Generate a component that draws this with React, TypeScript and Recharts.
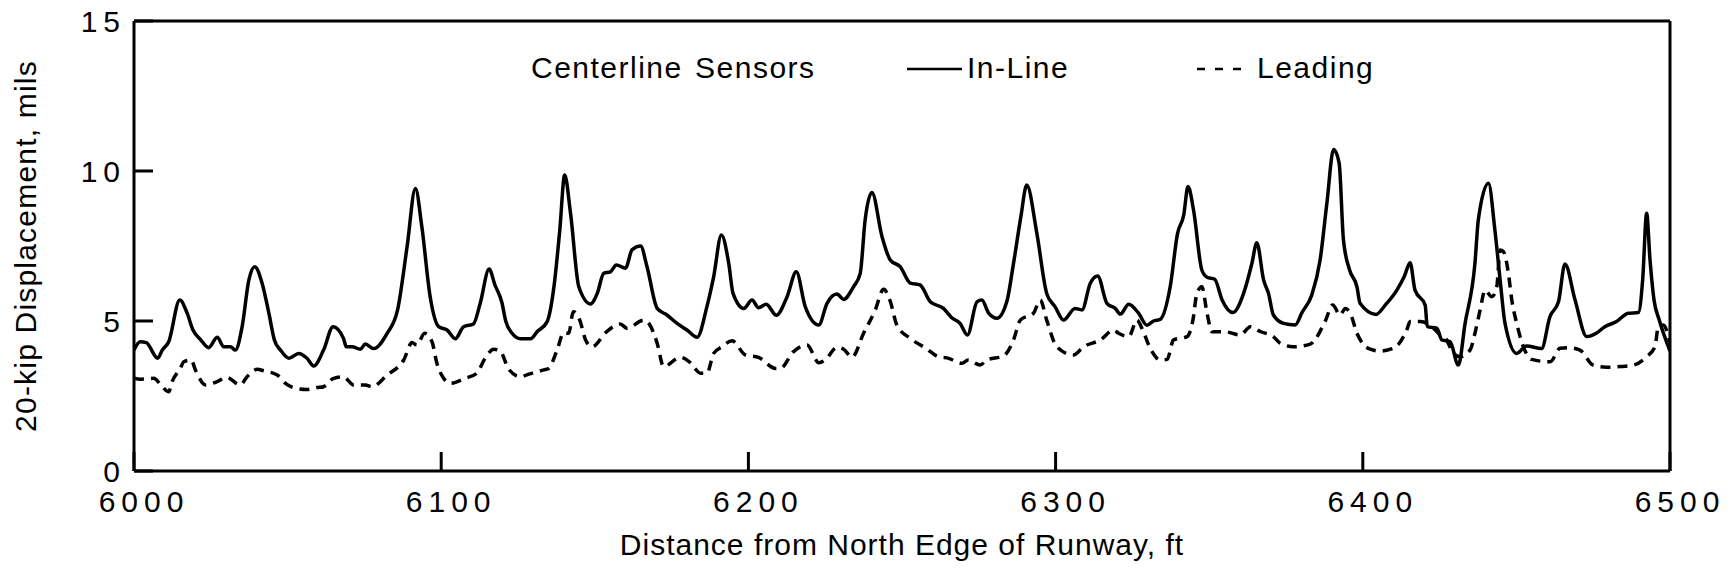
import React from 'react';
import { LineChart, Line, XAxis, YAxis } from 'recharts';

const FONT = '"Liberation Sans", Arial, Helvetica, sans-serif';

// in-line sensor trace (solid)
const inLineDist = [
  6000, 6002, 6004, 6007.7, 6009.2, 6011.3, 6014.9, 6017.3, 6019.2, 6021.6, 6024.3, 6027.1, 6029.2, 6031.4,
  6033, 6035.2, 6037.4, 6039.3, 6041.7, 6043.9, 6045.7, 6047.7, 6050.4, 6053.6, 6056.3, 6058.5, 6061.7,
  6064.8, 6068.2, 6069.1, 6071, 6073.7, 6075.3, 6078, 6082.4, 6085.8, 6088.9, 6091.6, 6093.7, 6096.4,
  6099.2, 6101.9, 6104.6, 6107.3, 6110.5, 6112.7, 6115.6, 6117.5, 6119.8, 6121, 6123, 6125.8, 6129.1,
  6131.2, 6134.5, 6136.7, 6138.6, 6140.2, 6142.1, 6144.8, 6148.6, 6150.8, 6152.9, 6155.1, 6157, 6160,
  6162.1, 6164.9, 6167, 6170.3, 6173.5, 6176.8, 6180, 6183.3, 6186.5, 6188.7, 6191.2, 6193.6, 6195,
  6198.5, 6201.2, 6203.3, 6205.8, 6209.1, 6212.6, 6215.6, 6218.5, 6222.9, 6225.6, 6228.8, 6231, 6234.2,
  6236.4, 6238, 6240.2, 6243.5, 6246.2, 6249.4, 6252.7, 6255.9, 6259.2, 6263.5, 6266.2, 6268.9, 6271.3,
  6274.4, 6276, 6278.2, 6280.9, 6284.1, 6286.3, 6288.7, 6290.6, 6293.9, 6297.1, 6299.8, 6302.6, 6306.3,
  6308.6, 6311.3, 6313.7, 6316.7, 6319.4, 6321.1, 6323.8, 6327, 6329.7, 6331.9, 6334.1, 6337.3, 6339.7,
  6341.7, 6343.1, 6344.9, 6347.6, 6349.3, 6351.8, 6354.2, 6357.7, 6361.2, 6363.9, 6365.5, 6367.7, 6369.3,
  6370.9, 6374.2, 6378, 6380.2, 6383.4, 6386.1, 6388.3, 6390.5, 6392.3, 6393.7, 6395.7, 6398.1, 6399.1,
  6404.3, 6407.3, 6411.1, 6413.5, 6415.4, 6417, 6420.3, 6421, 6424.1, 6425.7, 6428.4, 6431.1, 6433.3,
  6436.5, 6437.6, 6440.9, 6443, 6444.7, 6446.3, 6450.1, 6453.3, 6458.2, 6460.9, 6463.7, 6465.8, 6469.1,
  6472.9, 6476.1, 6478.8, 6482.6, 6486.4, 6489.7, 6491.1, 6492.4, 6493.5, 6494.8, 6496.5, 6500,
];
const inLineDisp = [
  4.03, 4.31, 4.28, 3.76, 4.03, 4.31, 5.7, 5.26, 4.7, 4.39, 4.11, 4.46, 4.14, 4.14,
  4.03, 4.81, 6.37, 6.81, 6.26, 5.26, 4.37, 4.03, 3.76, 3.92, 3.76, 3.5, 4.03,
  4.81, 4.42, 4.14, 4.14, 4.06, 4.23, 4.08, 4.59, 5.37, 7.48, 9.42, 8.14, 5.81,
  4.81, 4.7, 4.41, 4.81, 4.9, 5.59, 6.73, 6.2, 5.6, 5.0, 4.6, 4.41, 4.41,
  4.64, 4.98, 6.14, 8.03, 9.87, 8.59, 6.14, 5.57, 5.92, 6.59, 6.64, 6.87, 6.76,
  7.37, 7.5, 6.81, 5.42, 5.2, 4.92, 4.7, 4.46, 5.48, 6.48, 7.87, 6.92, 5.92,
  5.42, 5.7, 5.44, 5.56, 5.19, 5.81, 6.64, 5.48, 4.87, 5.59, 5.9, 5.72, 6.14,
  6.59, 8.37, 9.28, 7.81, 7.03, 6.81, 6.26, 6.2, 5.64, 5.42, 5.11, 4.92, 4.53,
  5.64, 5.7, 5.26, 5.09, 5.64, 6.92, 8.48, 9.53, 7.92, 5.92, 5.48, 5.03, 5.42,
  5.37, 6.26, 6.5, 5.59, 5.42, 5.23, 5.56, 5.26, 4.86, 5.0, 5.06, 6.14, 7.92,
  8.53, 9.48, 8.7, 6.7, 6.46, 6.39, 5.7, 5.28, 5.92, 6.92, 7.61, 6.37, 5.92,
  5.2, 4.92, 4.87, 5.28, 5.87, 7.03, 8.92, 10.72, 10.26, 7.7, 6.7, 6.14, 5.59,
  5.22, 5.53, 6.03, 6.48, 6.94, 6.03, 5.53, 4.81, 4.76, 4.37, 4.31, 3.53, 4.92,
  6.92, 8.37, 9.59, 8.03, 6.37, 4.92, 3.92, 4.17, 4.08, 5.14, 5.64, 6.9, 5.7,
  4.48, 4.6, 4.81, 4.98, 5.26, 5.28, 6.37, 8.59, 7.03, 5.7, 5.03, 4.0,
];

// leading sensor trace (dashed)
const leadingDist = [
  6000, 6002.1, 6006.4, 6009.2, 6011.3, 6012.4, 6015.1, 6016.2, 6018.6, 6020, 6023.3, 6027.1, 6030.1,
  6034.6, 6036.8, 6040.1, 6042.2, 6046.6, 6049.3, 6052.5, 6056.3, 6059.6, 6061.7, 6065, 6068.2, 6071.5,
  6075.3, 6077.5, 6082.4, 6087.8, 6090.5, 6092.1, 6094.6, 6097, 6098.6, 6100.8, 6103, 6107.8, 6111.6,
  6114.3, 6117.1, 6119.2, 6122, 6125.8, 6128.5, 6133.4, 6135, 6137.7, 6139.9, 6141.5, 6143, 6145.1,
  6147, 6149.1, 6153.8, 6158.3, 6160.5, 6166, 6167.6, 6170.3, 6172.4, 6177.9, 6181.1, 6184.4, 6186.5,
  6188.7, 6191.4, 6194.7, 6199, 6203.3, 6208.8, 6210.4, 6214.7, 6219.1, 6222.9, 6225, 6228.8, 6231,
  6233.7, 6237.5, 6241.3, 6244, 6246.2, 6248.3, 6252.7, 6257.5, 6262.4, 6264.6, 6269.5, 6271.6, 6275.4,
  6277.6, 6283, 6286.3, 6288.5, 6292.8, 6295, 6297.1, 6300.4, 6305.8, 6309.1, 6314.6, 6318.9, 6320.5,
  6323.8, 6326.5, 6328.1, 6330.8, 6334.1, 6336.3, 6338.4, 6342.8, 6344.7, 6346, 6347.6, 6349.3, 6350.9,
  6355.2, 6360.1, 6363.4, 6366.6, 6370.9, 6373.1, 6377.4, 6382.9, 6387.7, 6390.2, 6392.6, 6394.3, 6395.9,
  6398.1, 6402.4, 6405.6, 6410, 6414.3, 6415.4, 6418.7, 6423, 6424.6, 6427.3, 6429.5, 6431.7, 6434.9,
  6436.5, 6438.2, 6439.8, 6442, 6443.6, 6444.7, 6445.8, 6447.4, 6448.5, 6450.1, 6451.7, 6455, 6461,
  6464.2, 6466.9, 6470.7, 6475, 6479.4, 6483.7, 6488.1, 6492.4, 6495.1, 6496.2, 6497.8, 6500,
];
const leadingDisp = [
  3.09, 3.06, 3.09, 2.81, 2.64, 2.98, 3.42, 3.64, 3.7, 3.37, 2.87, 2.98, 3.12,
  2.87, 3.14, 3.39, 3.34, 3.2, 2.92, 2.76, 2.72, 2.78, 2.81, 3.09, 3.14, 2.87,
  2.87, 2.81, 3.2, 3.7, 4.28, 4.2, 4.59, 4.31, 3.59, 3.09, 2.92, 3.09, 3.26,
  3.76, 4.06, 4.0, 3.39, 3.14, 3.23, 3.37, 3.42, 4.03, 4.61, 4.59, 5.31, 5.03,
  4.37, 4.14, 4.64, 4.9, 4.76, 5.03, 4.92, 4.26, 3.48, 3.79, 3.61, 3.26, 3.26,
  3.92, 4.14, 4.34, 3.87, 3.79, 3.42, 3.42, 3.98, 4.2, 3.61, 3.7, 4.12, 4.06,
  3.79, 4.59, 5.37, 6.06, 5.65, 4.87, 4.42, 4.11, 3.79, 3.77, 3.59, 3.7, 3.53,
  3.7, 3.83, 4.37, 5.03, 5.26, 5.7, 5.03, 4.14, 3.87, 4.14, 4.37, 4.7, 4.59,
  4.48, 5.03, 4.76, 4.09, 3.7, 3.72, 4.37, 4.48, 5.03, 5.92, 6.14, 5.26, 4.64,
  4.64, 4.53, 4.81, 4.65, 4.48, 4.26, 4.14, 4.23, 4.98, 5.53, 5.2, 5.42, 5.26,
  4.59, 4.06, 4.0, 4.09, 4.7, 4.98, 4.98, 4.76, 4.59, 4.37, 3.92, 3.81, 4.03,
  4.59, 5.37, 6.03, 5.81, 6.14, 7.37, 7.31, 6.59, 5.7, 4.92, 4.31, 3.72, 3.64,
  4.09, 4.11, 4.03, 3.53, 3.46, 3.48, 3.53, 3.81, 4.14, 4.81, 4.87, 4.3,
];

const xTicks = [6000, 6100, 6200, 6300, 6400, 6500];
const yTicks = [0, 5, 10, 15];

const inLineData = inLineDist.map((x, i) => ({ x, v: inLineDisp[i] }));
const leadingData = leadingDist.map((x, i) => ({ x, v: leadingDisp[i] }));

const axisStyle = { stroke: '#000', strokeWidth: 3 };

function XTick({ x, y, payload }: any) {
  return (
    <text x={x + 10} y={y} dy="0.71em" textAnchor="middle" fontFamily={FONT} fontSize={30} letterSpacing={6} fill="#000">
      {payload.value}
    </text>
  );
}

function YTick({ x, y, payload }: any) {
  return (
    <text x={x} y={y} dy="0.36em" textAnchor="end" fontFamily={FONT} fontSize={30} letterSpacing={6} fill="#000">
      {payload.value}
    </text>
  );
}

function XTitle({ viewBox }: any) {
  const cx = viewBox.x + viewBox.width / 2;
  return (
    <text x={cx} y={555} textAnchor="middle" fontFamily={FONT} fontSize={30} letterSpacing={1} fill="#000">
      Distance from North Edge of Runway, ft
    </text>
  );
}

function YTitle({ viewBox }: any) {
  const cx = 36;
  const cy = viewBox.y + viewBox.height / 2;
  return (
    <text x={cx} y={cy} transform={`rotate(-90 ${cx} ${cy})`} textAnchor="middle" fontFamily={FONT} fontSize={30} letterSpacing={1.2} fill="#000">
      20-kip Displacement, mils
    </text>
  );
}

function LegendOverlay() {
  const t = { fontFamily: FONT, fontSize: 30, letterSpacing: 1.5, fill: '#000' };
  return (
    <svg width={1733} height={100} style={{ position: 'absolute', left: 0, top: 0, pointerEvents: 'none' }}>
      <text x={531} y={78} {...t}>Centerline</text>
      <text x={695} y={78} {...t}>Sensors</text>
      <line x1={907} x2={962} y1={69} y2={69} stroke="#000" strokeWidth={2.5} />
      <text x={967} y={78} {...t}>In-Line</text>
      <line x1={1197} x2={1241} y1={69} y2={69} stroke="#000" strokeWidth={2.5} strokeDasharray="8 10" />
      <text x={1257} y={78} {...t}>Leading</text>
    </svg>
  );
}

export default function App() {
  return (
    <div style={{ position: 'absolute', left: 0, top: 0, width: 1733, height: 578, background: '#fff' }}>
      <LineChart width={1733} height={578} data={inLineData} margin={{ top: 0, right: 0, bottom: 0, left: 0 }}>
        <XAxis
          xAxisId="bottom" orientation="bottom" dataKey="x" type="number" domain={[6000, 6500]} ticks={xTicks}
          allowDataOverflow height={107} tickSize={-19} tickMargin={39} tick={<XTick />}
          axisLine={axisStyle} tickLine={axisStyle} label={<XTitle />}
        />
        <XAxis
          xAxisId="top" orientation="top" dataKey="x" type="number" domain={[6000, 6500]} ticks={xTicks}
          allowDataOverflow height={21} tickSize={-19} tick={false} axisLine={axisStyle} tickLine={axisStyle}
        />
        <YAxis
          yAxisId="left" orientation="left" type="number" domain={[0, 15]} ticks={yTicks} allowDataOverflow
          width={134} tickSize={-19} tickMargin={27} tick={<YTick />} axisLine={axisStyle} tickLine={axisStyle}
          label={<YTitle />}
        />
        <YAxis
          yAxisId="right" orientation="right" type="number" domain={[0, 15]} ticks={yTicks} allowDataOverflow
          width={63} tickSize={-19} tick={false} axisLine={axisStyle} tickLine={axisStyle}
        />
        <Line
          xAxisId="bottom" yAxisId="left" data={inLineData} dataKey="v" type="monotone" stroke="#000"
          strokeWidth={3.5} strokeLinejoin="round" dot={false} activeDot={false} isAnimationActive={false}
        />
        <Line
          xAxisId="top" yAxisId="right" data={leadingData} dataKey="v" type="monotone" stroke="#000"
          strokeWidth={3.5} strokeDasharray="10 7" dot={false} activeDot={false} isAnimationActive={false}
        />
      </LineChart>
      <LegendOverlay />
    </div>
  );
}
